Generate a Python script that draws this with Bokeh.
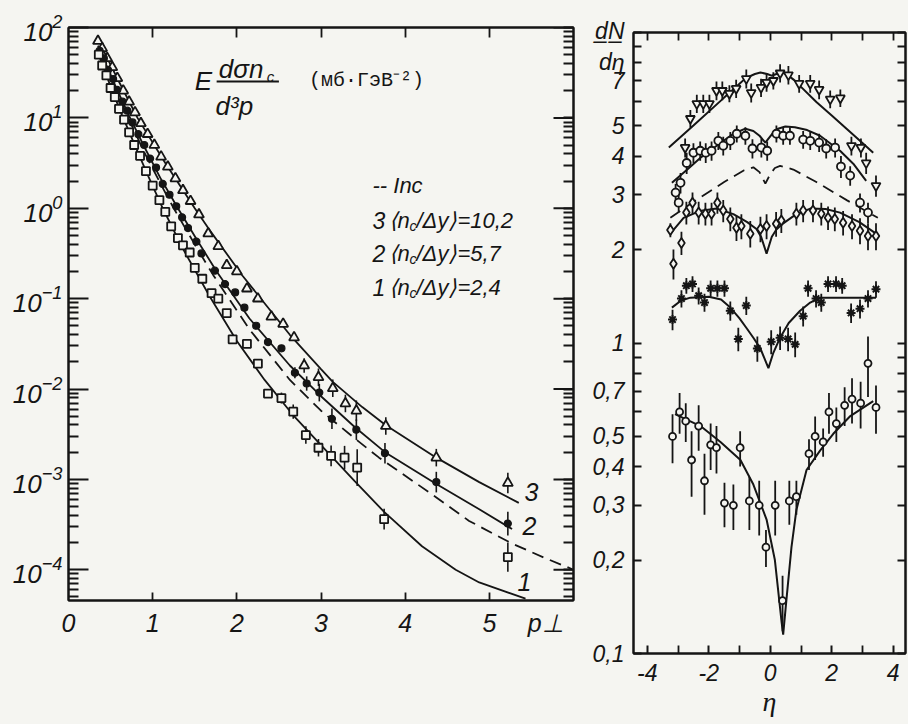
from bokeh.plotting import figure
from bokeh.models import FixedTicker, LogAxis, LinearAxis, Label, Range1d
from bokeh.embed import file_html
from bokeh.resources import INLINE

# ---------------- Left panel: E dσ/d³p vs p⊥ ----------------
pt_3 = [0.35, 0.40, 0.46, 0.52, 0.58, 0.65, 0.72, 0.79, 0.86, 0.94, 1.02, 1.10, 1.18, 1.27, 1.36, 1.45,
        1.55, 1.66, 1.78, 1.88, 2.00, 2.12, 2.25, 2.41, 2.55, 2.68, 2.80, 2.97, 3.14, 3.29, 3.42, 3.77, 4.37, 5.22]
v_3 = [70.8, 58.9, 45.7, 36.3, 27.5, 20.0, 15.1, 11.5, 8.71, 6.61, 5.01, 3.72, 2.88, 2.14, 1.58, 1.20,
       0.851, 0.525, 0.380, 0.234, 0.200, 0.129, 0.100, 0.0631, 0.0525, 0.0372, 0.0182, 0.0135, 0.0102,
       0.00692, 0.00575, 0.00389, 0.00174, 0.000912]
err_3 = [1] * 26 + [1.2, 1.25, 1.25, 1.25, 1.3, 1.25, 1.25, 1.3]

pt_2 = [0.37, 0.42, 0.47, 0.53, 0.58, 0.64, 0.70, 0.76, 0.83, 0.90, 0.97, 1.04, 1.12, 1.20, 1.28, 1.35,
        1.42, 1.52, 1.58, 1.74, 1.86, 1.98, 2.09, 2.23, 2.37, 2.53, 2.69, 2.83, 2.98, 3.13, 3.42, 3.76, 4.37, 5.22]
v_2 = [55.0, 45.7, 33.9, 26.9, 20.4, 15.1, 12.0, 8.91, 6.61, 5.01, 3.55, 2.82, 1.86, 1.41, 1.05, 0.794,
       0.603, 0.427, 0.316, 0.204, 0.145, 0.117, 0.0794, 0.0501, 0.0331, 0.0282, 0.0151, 0.0115, 0.00912,
       0.00468, 0.00355, 0.00195, 0.000933, 0.000324]
err_2 = [1] * 26 + [1.15, 1.2, 1.25, 1.3, 1.3, 1.3, 1.3, 1.35]

pt_1 = [0.36, 0.40, 0.45, 0.50, 0.55, 0.60, 0.66, 0.72, 0.78, 0.85, 0.92, 1.00, 1.08, 1.15, 1.22, 1.30,
        1.36, 1.44, 1.50, 1.59, 1.70, 1.78, 1.88, 1.95, 2.12, 2.25, 2.37, 2.53, 2.67, 2.82, 2.97, 3.12,
        3.28, 3.43, 3.75, 5.22]
v_1 = [50.1, 38.0, 29.5, 21.4, 17.0, 12.6, 9.55, 6.92, 5.01, 3.80, 2.57, 1.78, 1.23, 0.912, 0.631, 0.468,
       0.389, 0.324, 0.219, 0.166, 0.115, 0.100, 0.0692, 0.0355, 0.0316, 0.0191, 0.00891, 0.00794, 0.00562,
       0.00309, 0.00224, 0.00182, 0.00174, 0.00135, 0.000363, 0.000138]
err_1 = [1] * 27 + [1.15, 1.2, 1.25, 1.25, 1.3, 1.35, 1.6, 1.3, 1.45]

fit_pt_1 = [0.35, 0.45, 0.55, 0.64, 0.80, 0.95, 1.12, 1.36, 1.68, 2.0, 2.33, 2.66, 3.0, 3.4, 3.75, 4.2, 4.6, 4.88, 5.43]
fit_v_1 = [52.5, 29.5, 17.0, 10.5, 4.68, 2.24, 1.0, 0.355, 0.105, 0.0339, 0.0126, 0.00525, 0.0024,
           0.000955, 0.000437, 0.000182, 0.0001, 7.24e-5, 4.79e-5]
fit_pt_2 = [0.35, 0.45, 0.55, 0.72, 0.90, 1.10, 1.30, 1.52, 1.76, 2.15, 2.63, 3.0, 3.4, 3.76, 4.37, 4.88, 5.27]
fit_v_2 = [63.1, 38.0, 23.4, 10.5, 4.79, 2.09, 1.0, 0.457, 0.200, 0.0603, 0.0182, 0.00832, 0.0038, 0.002,
           0.000891, 0.000468, 0.000282]
fit_pt_3 = [0.35, 0.45, 0.60, 0.82, 1.15, 1.50, 1.66, 2.07, 2.63, 3.0, 3.14, 3.49, 3.77, 4.37, 4.88, 5.35]
fit_v_3 = [75.9, 47.9, 25.1, 10.0, 3.16, 1.0, 0.603, 0.178, 0.0398, 0.0166, 0.012, 0.00631, 0.00398,
           0.00174, 0.000933, 0.00055]
inc_pt = [0.35, 0.45, 0.55, 0.70, 0.90, 1.10, 1.25, 1.50, 1.72, 2.15, 2.63, 3.0, 3.42, 3.69, 4.28, 4.76, 5.27, 5.66, 5.98]
inc_v = [58.9, 35.5, 21.4, 10.5, 4.17, 1.82, 1.0, 0.398, 0.182, 0.0457, 0.0126, 0.00575, 0.00275, 0.00174,
         0.000724, 0.000347, 0.000195, 0.000135, 0.000102]

left_x_ticks = [0, 1, 2, 3, 4, 5]
left_x_marks = [1, 2, 3, 4, 5]
left_x_name_pos = 5.67
left_x_name = "p⊥"
left_y_ticks = [1e-4, 1e-3, 1e-2, 1e-1, 1, 10, 100]
legend_lines = [("3", "10,2"), ("2", "5,7"), ("1", "2,4")]

# ---------------- Right panel: dN/dη vs η ----------------
eta_a = [-2.77, -2.60, -2.39, -2.18, -1.98, -1.75, -1.56, -1.33, -1.11, -0.78, -0.62, -0.30, -0.12, 0.10,
         0.32, 0.59, 0.94, 1.30, 1.59, 1.95, 2.28, 2.64, 2.95, 3.12, 3.44]
dn_a = [4.26, 5.28, 5.90, 5.90, 5.90, 6.50, 6.50, 6.36, 6.60, 7.10, 6.40, 6.65, 6.90, 7.00, 7.40, 7.30,
        6.85, 6.85, 6.55, 6.10, 6.15, 4.32, 4.26, 3.80, 3.21]
e_a = [0.3, 0.35, 0.4, 0.4, 0.4, 0.45, 0.45, 0.4, 0.45, 0.5, 0.45, 0.45, 0.45, 0.45, 0.5, 0.5, 0.45, 0.45,
       0.45, 0.4, 0.4, 0.3, 0.3, 0.3, 0.25]

eta_b = [-3.08, -2.98, -2.92, -2.72, -2.50, -2.28, -2.10, -1.91, -1.69, -1.53, -1.30, -1.09, -0.81, -0.58,
         -0.29, -0.10, 0.20, 0.42, 0.64, 1.07, 1.30, 1.59, 1.82, 2.11, 2.30, 2.60, 2.92, 3.18]
dn_b = [3.05, 2.83, 3.28, 3.80, 4.10, 4.16, 4.10, 4.16, 4.48, 4.32, 4.48, 4.72, 4.65, 4.23, 4.26, 4.16,
        4.72, 4.65, 4.65, 4.52, 4.48, 4.42, 4.23, 4.26, 3.70, 3.46, 2.83, 2.63]
e_b = [0.2, 0.2, 0.25] + [0.3] * 22 + [0.25, 0.2, 0.2]

eta_c = [-3.25, -3.15, -2.89, -2.73, -2.53, -2.33, -2.11, -1.91, -1.72, -1.53, -1.30, -1.10, -0.94, -0.65,
         -0.32, -0.12, 0.19, 0.36, 0.85, 1.07, 1.39, 1.66, 1.88, 2.10, 2.37, 2.66, 2.92, 3.18, 3.44]
dn_c = [2.31, 1.80, 2.10, 2.63, 2.83, 2.63, 2.61, 2.61, 2.83, 2.67, 2.51, 2.35, 2.38, 2.25, 2.33, 2.38,
        2.42, 2.48, 2.61, 2.67, 2.67, 2.61, 2.53, 2.51, 2.44, 2.38, 2.30, 2.21, 2.21]
e_c = [0.12, 0.2, 0.18] + [0.22] * 26

eta_d = [-3.18, -2.89, -2.73, -2.53, -2.33, -2.14, -1.94, -1.72, -1.49, -1.30, -1.04, -0.78, -0.42, 0.03,
         0.32, 0.58, 0.81, 1.07, 1.23, 1.49, 1.66, 1.88, 2.14, 2.34, 2.63, 2.92, 3.18, 3.44]
dn_d = [1.19, 1.39, 1.53, 1.55, 1.42, 1.35, 1.50, 1.50, 1.50, 1.27, 1.03, 1.32, 0.96, 1.01, 1.04, 1.03,
        0.99, 1.22, 1.50, 1.39, 1.35, 1.55, 1.55, 1.53, 1.25, 1.29, 1.39, 1.49]
e_d = [0.09] * 28

eta_e = [-3.18, -2.95, -2.75, -2.56, -2.33, -2.14, -1.94, -1.75, -1.49, -1.20, -0.98, -0.68, -0.36, -0.14,
         0.16, 0.40, 0.62, 0.85, 1.26, 1.46, 1.72, 1.91, 2.15, 2.42, 2.66, 2.94, 3.18, 3.44]
dn_e = [0.50, 0.60, 0.56, 0.42, 0.54, 0.36, 0.47, 0.46, 0.305, 0.30, 0.46, 0.31, 0.30, 0.22, 0.30, 0.148,
        0.31, 0.32, 0.44, 0.50, 0.48, 0.60, 0.55, 0.63, 0.66, 0.64, 0.86, 0.62]
e_e = [0.09, 0.09, 0.08, 0.10, 0.09, 0.08, 0.08, 0.08, 0.05, 0.05, 0.06, 0.06, 0.06, 0.03, 0.06, 0.03,
       0.05, 0.04, 0.05, 0.08, 0.05, 0.09, 0.07, 0.09, 0.11, 0.11, 0.19, 0.11]

fit_eta_a = [-3.3, -2.5, -1.5, -1.0, -0.8, -0.5, -0.32, -0.1, 0.04, 0.2, 0.42, 0.6, 0.8, 1.0, 1.5, 2.0, 2.5, 3.0, 3.35]
fit_dn_a = [4.26, 5.02, 6.17, 6.84, 7.13, 7.35, 7.43, 7.35, 7.26, 7.35, 7.43, 7.25, 7.0, 6.68, 5.97, 5.40, 4.88, 4.41, 4.10]
fit_eta_b = [-3.2, -2.7, -2.27, -1.7, -1.2, -0.81, -0.55, -0.35, -0.16, 0.05, 0.25, 0.49, 0.8, 1.2, 1.62, 2.27, 2.7, 3.12]
fit_dn_b = [3.28, 3.62, 3.95, 4.35, 4.72, 4.90, 4.82, 4.65, 4.42, 4.70, 4.90, 4.98, 4.95, 4.85, 4.65, 4.16, 3.78, 3.33]
inc_eta = [-3.25, -2.5, -1.5, -0.85, -0.55, -0.35, -0.16, 0.0, 0.15, 0.32, 0.75, 1.5, 2.5, 3.5]
inc_dn = [2.53, 2.85, 3.30, 3.60, 3.68, 3.55, 3.26, 3.5, 3.66, 3.72, 3.62, 3.30, 2.88, 2.53]
fit_eta_c = [-3.25, -2.82, -2.3, -1.75, -1.2, -0.75, -0.45, -0.3, -0.12, 0.05, 0.2, 0.4, 0.8, 1.3, 1.8, 2.27, 2.9, 3.44]
fit_dn_c = [2.25, 2.53, 2.66, 2.71, 2.60, 2.45, 2.33, 2.2, 1.94, 2.2, 2.32, 2.42, 2.58, 2.71, 2.70, 2.63, 2.45, 2.25]
fit_eta_d = [-3.2, -2.9, -2.6, -2.0, -1.6, -1.3, -1.0, -0.78, -0.55, -0.32, -0.06, 0.1, 0.32, 0.6, 0.97, 1.3, 1.62, 2.5, 3.44]
fit_dn_d = [1.30, 1.37, 1.40, 1.41, 1.38, 1.30, 1.20, 1.12, 1.04, 0.96, 0.83, 0.93, 1.04, 1.16, 1.27, 1.35, 1.40, 1.40, 1.40]
fit_eta_e = [-3.1, -2.27, -1.62, -0.97, -0.55, -0.12, 0.15, 0.37, 0.42, 0.5, 0.69, 0.85, 1.18, 1.62, 2.05, 2.59, 3.35]
fit_dn_e = [0.59, 0.54, 0.48, 0.42, 0.35, 0.27, 0.20, 0.126, 0.115, 0.14, 0.22, 0.29, 0.39, 0.45, 0.51, 0.58, 0.65]

right_x_ticks = [-4, -2, 0, 2, 4]
right_x_minor = [-3, -1, 1, 3]
right_y_label_ticks = [0.1, 0.2, 0.3, 0.4, 0.5, 0.7, 1, 2, 3, 4, 5, 7]
right_y_labels = ["0,1", "0,2", "0,3", "0,4", "0,5", "0,7", "1", "2", "3", "4", "5", "7"]
right_y_marks = [0.1, 0.2, 0.3, 0.4, 0.5, 0.6, 0.7, 0.8, 0.9, 1, 2, 3, 4, 5, 6, 7, 8, 9, 10]
right_y_name_pos = 9.0
right_y_name = "d\u0332N\u0332\ndη"

# ---------------- styling ----------------
BG = "#f5f5f1"
INK = "#151515"
FONT = "Liberation Sans"
SERIF = "Liberation Serif"


def style_axis(ax, size, tin, minin, standoff=6):
    ax.axis_line_color = INK
    ax.axis_line_width = 2
    ax.major_tick_line_color = INK if tin > 0 else None
    ax.major_tick_line_width = 2
    ax.minor_tick_line_color = INK
    ax.minor_tick_line_width = 1.8
    ax.major_tick_in = tin
    ax.major_tick_out = 0
    ax.minor_tick_in = minin
    ax.minor_tick_out = 0
    ax.major_label_text_font = FONT
    ax.major_label_text_font_style = "italic"
    ax.major_label_text_color = INK
    ax.major_label_text_font_size = f"{size}px"
    ax.major_label_standoff = standoff


def mirror(ax, minor_len):
    # a tick-only axis: every tick is a "minor" one, so no label is made
    ax.axis_line_color = INK
    ax.axis_line_width = 2
    ax.major_tick_line_color = None
    ax.minor_tick_line_color = INK
    ax.minor_tick_line_width = 1.8
    ax.minor_tick_in = minor_len
    ax.minor_tick_out = 0
    ax.major_tick_in = 0
    ax.major_tick_out = 0
    ax.major_label_standoff = 0


def errbars(p, xs, ys, es, mult, width=1.6):
    x0, lo, hi = [], [], []
    for x, y, e in zip(xs, ys, es):
        if mult:
            if e <= 1:
                continue
            lo.append(y / e)
            hi.append(y * e)
        else:
            lo.append(y - e)
            hi.append(y + e)
        x0.append(x)
    p.segment(x0=x0, y0=lo, x1=x0, y1=hi, line_color=INK, line_width=width)


def lab(p, x, y, text, size, style="italic", font=FONT, align="center", base="middle", xo=0, yo=0):
    p.add_layout(Label(x=x, y=y, text=text, text_font=font, text_font_size=f"{size}px",
                       text_font_style=style, text_color=INK, text_align=align,
                       text_baseline=base, x_offset=xo, y_offset=yo))


# ---------------- left figure ----------------
X0, X1 = 0, 6
p1 = figure(width=583, height=724, x_range=Range1d(X0, X1), y_range=Range1d(4.57e-5, 100),
            y_axis_type="log", output_backend="svg", toolbar_location=None,
            min_border_left=68, min_border_right=10, min_border_top=27, min_border_bottom=124)
p1.grid.visible = False
p1.background_fill_color = BG
p1.border_fill_color = BG
p1.outline_line_color = INK
p1.outline_line_width = 2

ymin_left = [k * 10.0 ** d for d in range(-5, 2) for k in range(2, 10)]
p1.yaxis.ticker = FixedTicker(ticks=left_y_ticks, minor_ticks=ymin_left)
style_axis(p1.yaxis[0], 26, 20, 10, 6)
p1.xaxis.ticker = FixedTicker(ticks=left_x_ticks + [left_x_name_pos], minor_ticks=left_x_marks)
p1.xaxis.major_label_overrides = {left_x_name_pos: left_x_name}
style_axis(p1.xaxis[0], 25, 0, 8, 8)

ax_r = LogAxis(ticker=FixedTicker(ticks=[], minor_ticks=ymin_left + left_y_ticks))
mirror(ax_r, 10)
p1.add_layout(ax_r, "right")
ax_t = LinearAxis(ticker=FixedTicker(ticks=[], minor_ticks=left_x_marks))
mirror(ax_t, 10)
p1.add_layout(ax_t, "above")
# longer decade ticks on the right edge (20 px long)
tick_dx = 20 * (X1 - X0) / 505
p1.segment(x0=[X1] * len(left_y_ticks), y0=left_y_ticks, x1=[X1 - tick_dx] * len(left_y_ticks),
           y1=left_y_ticks, line_color=INK, line_width=2)

for xs, ys in [(fit_pt_1, fit_v_1), (fit_pt_2, fit_v_2), (fit_pt_3, fit_v_3)]:
    p1.line(xs, ys, line_color=INK, line_width=1.8)
p1.line(inc_pt, inc_v, line_color=INK, line_width=1.8, line_dash="12 7")

errbars(p1, pt_3, v_3, err_3, True)
errbars(p1, pt_2, v_2, err_2, True)
errbars(p1, pt_1, v_1, err_1, True)
p1.scatter(pt_3, v_3, marker="triangle", size=10, fill_color=BG, line_color=INK, line_width=1.8)
p1.scatter(pt_2, v_2, marker="circle", size=7, fill_color=INK, line_color=INK, line_width=1.2)
p1.scatter(pt_1, v_1, marker="square", size=8, fill_color=BG, line_color=INK, line_width=1.8)

# title formula
lab(p1, 1.604, 25.9, "E", 26)
lab(p1, 2.05, 34.3, "dσn", 26)
lab(p1, 2.40, 29.0, "c", 15)
p1.segment(x0=[1.76], y0=[25.3], x1=[2.50], y1=[25.3], line_color=INK, line_width=2)
lab(p1, 1.97, 13.7, "d³p", 26)
lab(p1, 3.54, 25.9, "(мб·ГэВ⁻²)", 20, style="normal", font="Liberation Mono")

# legend
lx = 3.612
lab(p1, lx, 1.79, "-- Inc", 22, align="left")
for (num, val), yv in zip(legend_lines, [0.733, 0.316, 0.133]):
    lab(p1, lx, yv, num, 23, align="left")
    lab(p1, lx, yv, "⟨n", 22, align="left", xo=16)
    lab(p1, lx, yv, "c", 14, align="left", xo=37, yo=-6)
    lab(p1, lx, yv, "/Δy⟩=" + val, 22, align="left", xo=44)

# curve numbers
lab(p1, 5.50, 7.18e-4, "3", 25)
lab(p1, 5.477, 3.02e-4, "2", 25)
lab(p1, 5.418, 7.26e-5, "1", 25)

# ---------------- right figure ----------------
p2 = figure(width=325, height=724, x_range=Range1d(-4.45, 4.4), y_range=Range1d(0.1, 10),
            y_axis_type="log", output_backend="svg", toolbar_location=None,
            min_border_left=50, min_border_right=3, min_border_top=32, min_border_bottom=71)
p2.grid.visible = False
p2.background_fill_color = BG
p2.border_fill_color = BG
p2.outline_line_color = INK
p2.outline_line_width = 2

p2.yaxis.ticker = FixedTicker(ticks=right_y_label_ticks + [right_y_name_pos], minor_ticks=right_y_marks)
p2.yaxis.major_label_overrides = {**dict(zip(right_y_label_ticks, right_y_labels)),
                                  right_y_name_pos: right_y_name}
style_axis(p2.yaxis[0], 23, 0, 8, 9)
p2.xaxis.ticker = FixedTicker(ticks=right_x_ticks, minor_ticks=right_x_minor)
p2.xaxis.major_label_overrides = {t: str(t) for t in right_x_ticks}
style_axis(p2.xaxis[0], 23, 8, 8, 10)
p2.xaxis.axis_label = "η"
p2.xaxis.axis_label_text_font = SERIF
p2.xaxis.axis_label_text_font_size = "28px"
p2.xaxis.axis_label_text_font_style = "italic"
p2.xaxis.axis_label_text_color = INK
p2.xaxis.axis_label_standoff = 2

ax_r2 = LogAxis(ticker=FixedTicker(ticks=[], minor_ticks=right_y_marks))
mirror(ax_r2, 8)
p2.add_layout(ax_r2, "right")
ax_t2 = LinearAxis(ticker=FixedTicker(ticks=[], minor_ticks=right_x_ticks + right_x_minor))
mirror(ax_t2, 8)
p2.add_layout(ax_t2, "above")

for xs, ys in [(fit_eta_a, fit_dn_a), (fit_eta_b, fit_dn_b), (fit_eta_c, fit_dn_c),
               (fit_eta_d, fit_dn_d), (fit_eta_e, fit_dn_e)]:
    p2.line(xs, ys, line_color=INK, line_width=2)
p2.line(inc_eta, inc_dn, line_color=INK, line_width=1.8, line_dash="12 7")

for xs, ys, es in [(eta_a, dn_a, e_a), (eta_b, dn_b, e_b), (eta_c, dn_c, e_c),
                   (eta_d, dn_d, e_d), (eta_e, dn_e, e_e)]:
    errbars(p2, xs, ys, es, False, 1.8)

p2.scatter(eta_a, dn_a, marker="inverted_triangle", size=9, fill_color=BG, line_color=INK, line_width=1.8)
p2.scatter(eta_b, dn_b, marker="circle", size=8, fill_color=BG, line_color=INK, line_width=1.8)
p2.scatter(eta_c, dn_c, marker="diamond", size=10, fill_color=BG, line_color=INK, line_width=1.8)
p2.scatter(eta_d, dn_d, marker="asterisk", size=9, line_color=INK, line_width=2)
p2.scatter(eta_e, dn_e, marker="circle", size=7, fill_color=BG, line_color=INK, line_width=1.8)

html = file_html((p1, p2), INLINE, title="spectra")
css = ("<style>html,body{margin:0 !important;padding:0 !important;background:#f5f5f1 !important;"
       "overflow:hidden;}body{display:flex !important;flex-direction:row !important;"
       "align-items:flex-start !important;}</style>")
html = html.replace("</head>", css + "</head>", 1)
open("out.html", "w").write(html)
